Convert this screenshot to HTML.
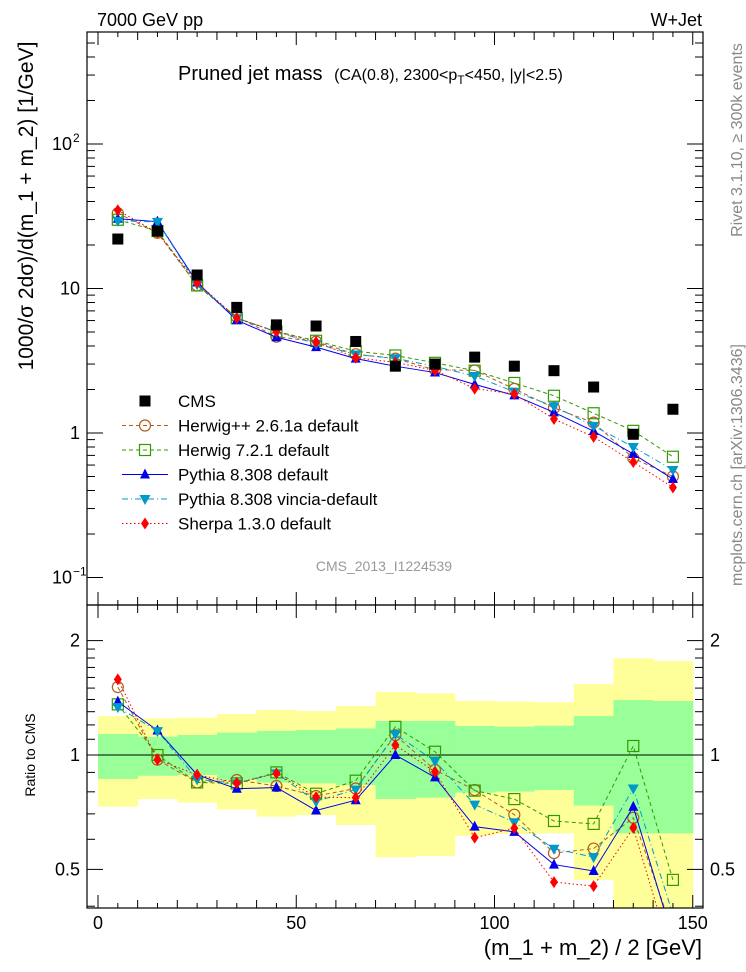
<!DOCTYPE html>
<html><head><meta charset="utf-8"><style>
body{margin:0;background:#fff;}
svg{display:block;font-family:"Liberation Sans",sans-serif;}
</style></head><body>
<svg id="c" width="746" height="972" viewBox="0 0 746 972" xmlns="http://www.w3.org/2000/svg">
<defs>
<clipPath id="clipMain"><rect x="87" y="32" width="616" height="573"/></clipPath>
<clipPath id="clipRatio"><rect x="87" y="605" width="616" height="303"/></clipPath>
</defs>
<g id="bands" clip-path="url(#clipRatio)"></g>
<g id="grid"></g>
<g id="series"></g>
<g id="axes"></g>
<text x="97" y="26" font-size="18">7000 GeV pp</text>
<text x="702" y="26" font-size="18" text-anchor="end">W+Jet</text>
<text x="178" y="80" font-size="20">Pruned jet mass <tspan font-size="16" dx="6">(CA(0.8), 2300&lt;p</tspan><tspan font-size="12" dy="4">T</tspan><tspan font-size="16" dy="-4">&lt;450, |y|&lt;2.5)</tspan></text>
<text transform="translate(33,206) rotate(-90)" font-size="21" text-anchor="middle">1000/σ 2dσ)/d(m_1 + m_2) [1/GeV]</text>
<text transform="translate(35,755) rotate(-90)" font-size="14" text-anchor="middle">Ratio to CMS</text>
<text transform="translate(742,140) rotate(-90)" font-size="16" fill="#888" text-anchor="middle">Rivet 3.1.10, ≥ 300k events</text>
<text transform="translate(742,465) rotate(-90)" font-size="16" fill="#888" text-anchor="middle">mcplots.cern.ch [arXiv:1306.3436]</text>
<text x="384" y="571" font-size="14" fill="#999" text-anchor="middle">CMS_2013_I1224539</text>
<text x="702" y="955" font-size="22" text-anchor="end">(m_1 + m_2) / 2 [GeV]</text>
<g id="legend"></g>
</svg>
<script>
const binCenters=[5,15,25,35,45,55,65,75,85,95,105,115,125,135,145];
const cmsValues=[22,25,12.4,7.4,5.6,5.5,4.3,2.9,3.0,3.35,2.9,2.7,2.08,0.98,1.46];
const herwigppValues=[33.2,24.3,10.5,6.36,4.64,4.29,3.51,3.27,2.74,2.71,2.02,1.49,1.18,0.67,0.5];
const herwig7Values=[29.9,25,10.5,6.23,5.04,4.35,3.68,3.44,3.06,2.70,2.22,1.81,1.37,1.035,0.685];
const pythiaValues=[30.4,29,11.0,6.03,4.6,3.93,3.27,2.9,2.62,2.17,1.82,1.39,1.03,0.716,0.48];
const vinciaValues=[29.4,28.9,10.7,6.23,5.01,4.15,3.49,3.29,2.89,2.48,1.93,1.53,1.12,0.80,0.555];
const sherpaValues=[34.8,24.3,11.0,6.25,5.01,4.26,3.32,3.08,2.71,2.03,1.86,1.25,0.94,0.63,0.42];
const yellowHigh=[1.266,1.249,1.254,1.282,1.314,1.305,1.346,1.465,1.453,1.387,1.382,1.376,1.537,1.797,1.768];
const yellowLow=[0.731,0.766,0.749,0.719,0.688,0.695,0.654,0.538,0.542,0.613,0.620,0.622,0.469,0.3,0.3];
const greenHigh=[1.136,1.117,1.129,1.145,1.157,1.164,1.175,1.229,1.229,1.192,1.187,1.194,1.266,1.395,1.387];
const greenLow=[0.865,0.882,0.886,0.86,0.846,0.842,0.834,0.766,0.772,0.796,0.801,0.809,0.736,0.622,0.622];
const xTickLabels=[0,50,100,150];

const NS="http://www.w3.org/2000/svg";
const L=87,R=703,T=32,MB=605,RB=908;
const xs=v=>98+3.965*v;
const ym=v=>433-144.5*Math.log10(v);
const yr=v=>755-380*Math.log10(v);
function mk(tag,attrs,parent){const e=document.createElementNS(NS,tag);for(const k in attrs)e.setAttribute(k,attrs[k]);parent.appendChild(e);return e;}
const bands=document.getElementById('bands'),axes=document.getElementById('axes'),ser=document.getElementById('series'),leg=document.getElementById('legend');

binCenters.forEach((c,i)=>{
  const x0=xs(c-5),x1=xs(c+5);
  let r=mk('rect',{x:x0,y:yr(yellowHigh[i]),width:x1-x0+0.5,height:yr(yellowLow[i])-yr(yellowHigh[i]),fill:'#ffff99'},bands);
  
  
});
binCenters.forEach((c,i)=>{
  const x0=xs(c-5),x1=xs(c+5);
  let r=mk('rect',{x:x0,y:yr(greenHigh[i]),width:x1-x0+0.5,height:yr(greenLow[i])-yr(greenHigh[i]),fill:'#99ff99'},bands);
  
  
});
let ref=mk('line',{x1:L,x2:R,y1:yr(1),y2:yr(1),stroke:'#000','stroke-width':1},bands);



let f1=mk('rect',{x:L,y:T,width:R-L,height:MB-T,fill:'none',stroke:'#000','stroke-width':1.2},axes);


let f2=mk('rect',{x:L,y:MB,width:R-L,height:RB-MB,fill:'none',stroke:'#000','stroke-width':1.2},axes);



for(let v=0;v<=150;v+=5){
  const big=v%50===0, med=v%10===0;
  const len=big?13:(med?8:5);
  [[RB,-1],[MB,-1],[MB,1],[T,1]].forEach(([y,d])=>{mk('line',{x1:xs(v),x2:xs(v),y1:y,y2:y+d*len,stroke:'#000'},axes);});
}
xTickLabels.forEach(v=>{let t=mk('text',{x:xs(v),y:929,'font-size':18,'text-anchor':'middle'},axes);t.textContent=v;

});

for(let d=-1;d<=2;d++){for(let m=1;m<10;m++){const v=m*Math.pow(10,d);const y=ym(v);if(y<T||y>MB)continue;const len=m===1?16:8;
  mk('line',{x1:L,x2:L+len,y1:y,y2:y,stroke:'#000'},axes);mk('line',{x1:R,x2:R-len,y1:y,y2:y,stroke:'#000'},axes);}}
[[2,'10','2'],[1,'10',''],[0,'1',''],[-1,'10','−1']].forEach(([e,b,s])=>{
  let t=mk('text',{x:s?72:80,y:ym(Math.pow(10,e))+6,'font-size':18,'text-anchor':'end'},axes);t.textContent=b;
  
  
  if(s){let u=mk('text',{x:73,y:ym(Math.pow(10,e))-2,'font-size':12},axes);u.textContent=s;}
});
[0.4,0.5,0.6,0.7,0.8,0.9,1,1.1,1.2,1.3,1.4,1.5,1.6,1.7,1.8,1.9,2].forEach(v=>{const y=yr(v);if(y<MB||y>RB)return;const big=(v===0.5||v===1||v===2);const len=big?16:8;
  mk('line',{x1:L,x2:L+len,y1:y,y2:y,stroke:'#000'},axes);mk('line',{x1:R,x2:R-len,y1:y,y2:y,stroke:'#000'},axes);});
[[2,'2'],[1,'1'],[0.5,'0.5']].forEach(([v,s])=>{
  let t=mk('text',{x:80,y:yr(v)+6,'font-size':18,'text-anchor':'end'},axes);t.textContent=s;
  
  
  let t2=mk('text',{x:710,y:yr(v)+6,'font-size':18},axes);t2.textContent=s;
  
  
});

function marker(g,type,x,y,col){
  if(type==='sqf')return mk('rect',{x:x-5.5,y:y-5.5,width:11,height:11,fill:'#000'},g);
  if(type==='circ')return mk('circle',{cx:x,cy:y,r:5.5,fill:'none',stroke:col,'stroke-width':1.2},g);
  if(type==='sqo')return mk('rect',{x:x-5.5,y:y-5.5,width:11,height:11,fill:'none',stroke:col,'stroke-width':1.2},g);
  if(type==='tu')return mk('path',{d:`M${x} ${y-6}L${x+5} ${y+4}L${x-5} ${y+4}Z`,fill:col},g);
  if(type==='td')return mk('path',{d:`M${x} ${y+6}L${x+5.5} ${y-4}L${x-5.5} ${y-4}Z`,fill:col},g);
  if(type==='dia')return mk('path',{d:`M${x} ${y-6}L${x+4} ${y}L${x} ${y+6}L${x-4} ${y}Z`,fill:col},g);
}
const series=[
 {name:'herwigpp',vals:herwigppValues,col:'#b35c1e',dash:'4,3',m:'circ',label:'Herwig++ 2.6.1a default'},
 {name:'herwig7',vals:herwig7Values,col:'#339900',dash:'4,3',m:'sqo',label:'Herwig 7.2.1 default'},
 {name:'pythia',vals:pythiaValues,col:'#0000ee',dash:'',m:'tu',label:'Pythia 8.308 default'},
 {name:'vincia',vals:vinciaValues,col:'#0099cc',dash:'6,3,1,3',m:'td',label:'Pythia 8.308 vincia-default'},
 {name:'sherpa',vals:sherpaValues,col:'#ff0000',dash:'1.5,2.5',m:'dia',label:'Sherpa 1.3.0 default'}
];
series.forEach(s=>{
  const gm=mk('g',{'clip-path':'url(#clipMain)'},ser);
  
  
  const gr=mk('g',{'clip-path':'url(#clipRatio)'},ser);
  
  
  const pm=binCenters.map((c,i)=>xs(c)+','+ym(s.vals[i])).join(' ');
  const pr=binCenters.map((c,i)=>xs(c)+','+yr(s.vals[i]/cmsValues[i])).join(' ');
  mk('polyline',{points:pm,fill:'none',stroke:s.col,'stroke-width':1,'stroke-dasharray':s.dash},gm);
  mk('polyline',{points:pr,fill:'none',stroke:s.col,'stroke-width':1,'stroke-dasharray':s.dash},gr);
  binCenters.forEach((c,i)=>{
    const p=marker(gm,s.m,xs(c),ym(s.vals[i]),s.col);
    
    
    const q=marker(gr,s.m,xs(c),yr(s.vals[i]/cmsValues[i]),s.col);
    
    
  });
});
const gc=mk('g',{'clip-path':'url(#clipMain)'},ser);


binCenters.forEach((c,i)=>{const p=marker(gc,'sqf',xs(c),ym(cmsValues[i]),'#000');
  
  });

const rows=[{label:'CMS',m:'sqf',col:'#000',dash:null}].concat(series);
rows.forEach((s,i)=>{
  const y=401+i*24.5;
  const g=mk('g',{},leg);
  
  
  if(s.dash!==null&&s.dash!==undefined)mk('line',{x1:122,x2:168,y1:y,y2:y,stroke:s.col,'stroke-dasharray':s.dash},g);
  marker(g,s.m,145,y,s.col);
  const t=mk('text',{x:178,y:y+6,'font-size':17},g);t.textContent=s.label;
});
</script>
</body></html>
